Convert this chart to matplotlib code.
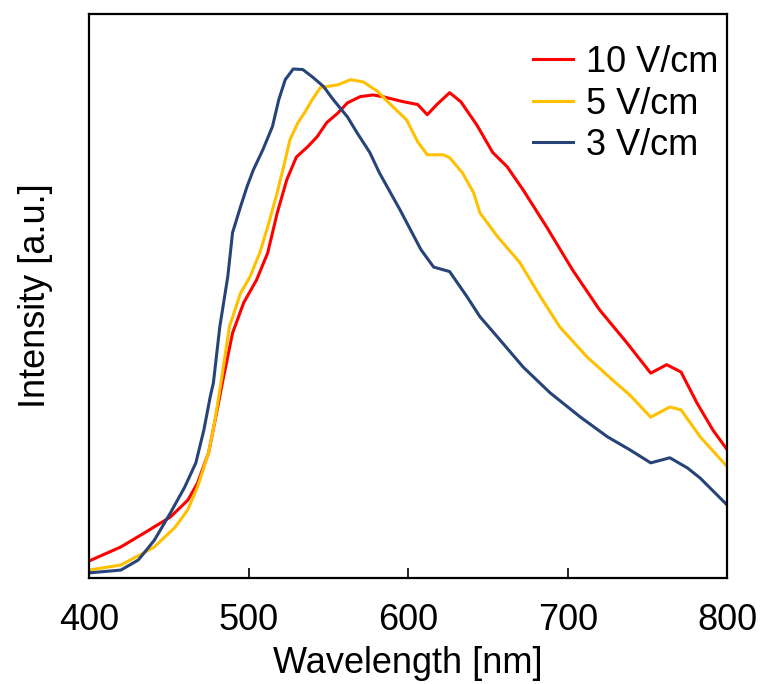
import matplotlib
matplotlib.use("Agg")
from matplotlib import pyplot as plt

plt.rcParams["font.family"] = ["Liberation Sans", "DejaVu Sans"]

# Emission spectra (intensity in arbitrary units)
wl_10 = [400, 420, 436, 451, 462, 468, 475, 480, 484, 490, 497, 505, 512, 518, 524, 530,
         537, 543, 549, 556, 562, 570, 578, 584, 597, 606, 612, 618, 626, 633, 643, 653,
         662, 672, 687, 703, 720, 737, 752, 762, 771, 781, 791, 800]
int_10 = [0.030, 0.055, 0.082, 0.108, 0.138, 0.168, 0.222, 0.293, 0.351, 0.434, 0.488,
          0.528, 0.576, 0.647, 0.706, 0.746, 0.764, 0.782, 0.807, 0.824, 0.842, 0.853,
          0.856, 0.853, 0.844, 0.839, 0.821, 0.839, 0.860, 0.844, 0.803, 0.754, 0.729,
          0.688, 0.621, 0.546, 0.475, 0.417, 0.363, 0.378, 0.365, 0.310, 0.262, 0.227]

wl_5 = [400, 420, 434, 441, 454, 462, 468, 475, 479, 483, 488, 495, 501, 507, 512, 518,
        522, 526, 531, 535, 540, 545, 556, 564, 572, 581, 589, 599, 606, 612, 622, 626,
        634, 641, 645, 656, 670, 683, 695, 712, 728, 739, 752, 764, 771, 783, 800]
int_5 = [0.014, 0.023, 0.044, 0.055, 0.090, 0.121, 0.161, 0.222, 0.280, 0.351, 0.445,
         0.505, 0.534, 0.576, 0.622, 0.683, 0.729, 0.777, 0.807, 0.824, 0.848, 0.869,
         0.874, 0.883, 0.879, 0.862, 0.839, 0.812, 0.773, 0.750, 0.750, 0.745, 0.718,
         0.683, 0.647, 0.605, 0.559, 0.498, 0.445, 0.392, 0.351, 0.324, 0.285, 0.303,
         0.298, 0.250, 0.197]

wl_3 = [400, 420, 431, 441, 451, 460, 467, 472, 476, 478, 482, 487, 490, 495, 499, 503,
        509, 515, 519, 523, 528, 534, 540, 547, 553, 562, 568, 576, 582, 595, 608, 616,
        626, 637, 645, 656, 672, 689, 708, 725, 739, 752, 764, 775, 783, 800]
int_3 = [0.009, 0.014, 0.032, 0.067, 0.115, 0.161, 0.204, 0.262, 0.321, 0.346, 0.445,
         0.534, 0.612, 0.658, 0.693, 0.723, 0.759, 0.800, 0.848, 0.883, 0.902, 0.901,
         0.888, 0.871, 0.848, 0.817, 0.789, 0.754, 0.718, 0.652, 0.582, 0.551, 0.543,
         0.498, 0.463, 0.427, 0.374, 0.328, 0.285, 0.250, 0.227, 0.204, 0.213, 0.195,
         0.177, 0.129]

fig = plt.figure(figsize=(7.6, 6.84), dpi=100)
ax = fig.add_axes([0.117, 0.155, 0.840, 0.825])

ax.plot(wl_10, int_10, color="#FF0000", lw=2.2, label="10 V/cm")
ax.plot(wl_5, int_5, color="#FFC000", lw=2.2, label="5 V/cm")
ax.plot(wl_3, int_3, color="#264478", lw=2.2, label="3 V/cm")

ax.set_xlim(400, 800)
ax.set_ylim(0, 1)
ax.set_xticks([400, 500, 600, 700, 800])
ax.set_yticks([])
ax.tick_params(axis="x", direction="in", length=7, width=1.2, labelsize=26, pad=18)
for s in ax.spines.values():
    s.set_linewidth(1.6)

ax.set_xlabel("Wavelength [nm]", fontsize=26, labelpad=6)
ax.set_ylabel("Intensity [a.u.]", fontsize=26, labelpad=26)

ax.legend(loc="upper right", frameon=False, fontsize=26, handlelength=1.1,
          handletextpad=0.36, labelspacing=0.18, borderaxespad=0,
          bbox_to_anchor=(1.008, 0.97))

fig.savefig("out.png", dpi=100)
